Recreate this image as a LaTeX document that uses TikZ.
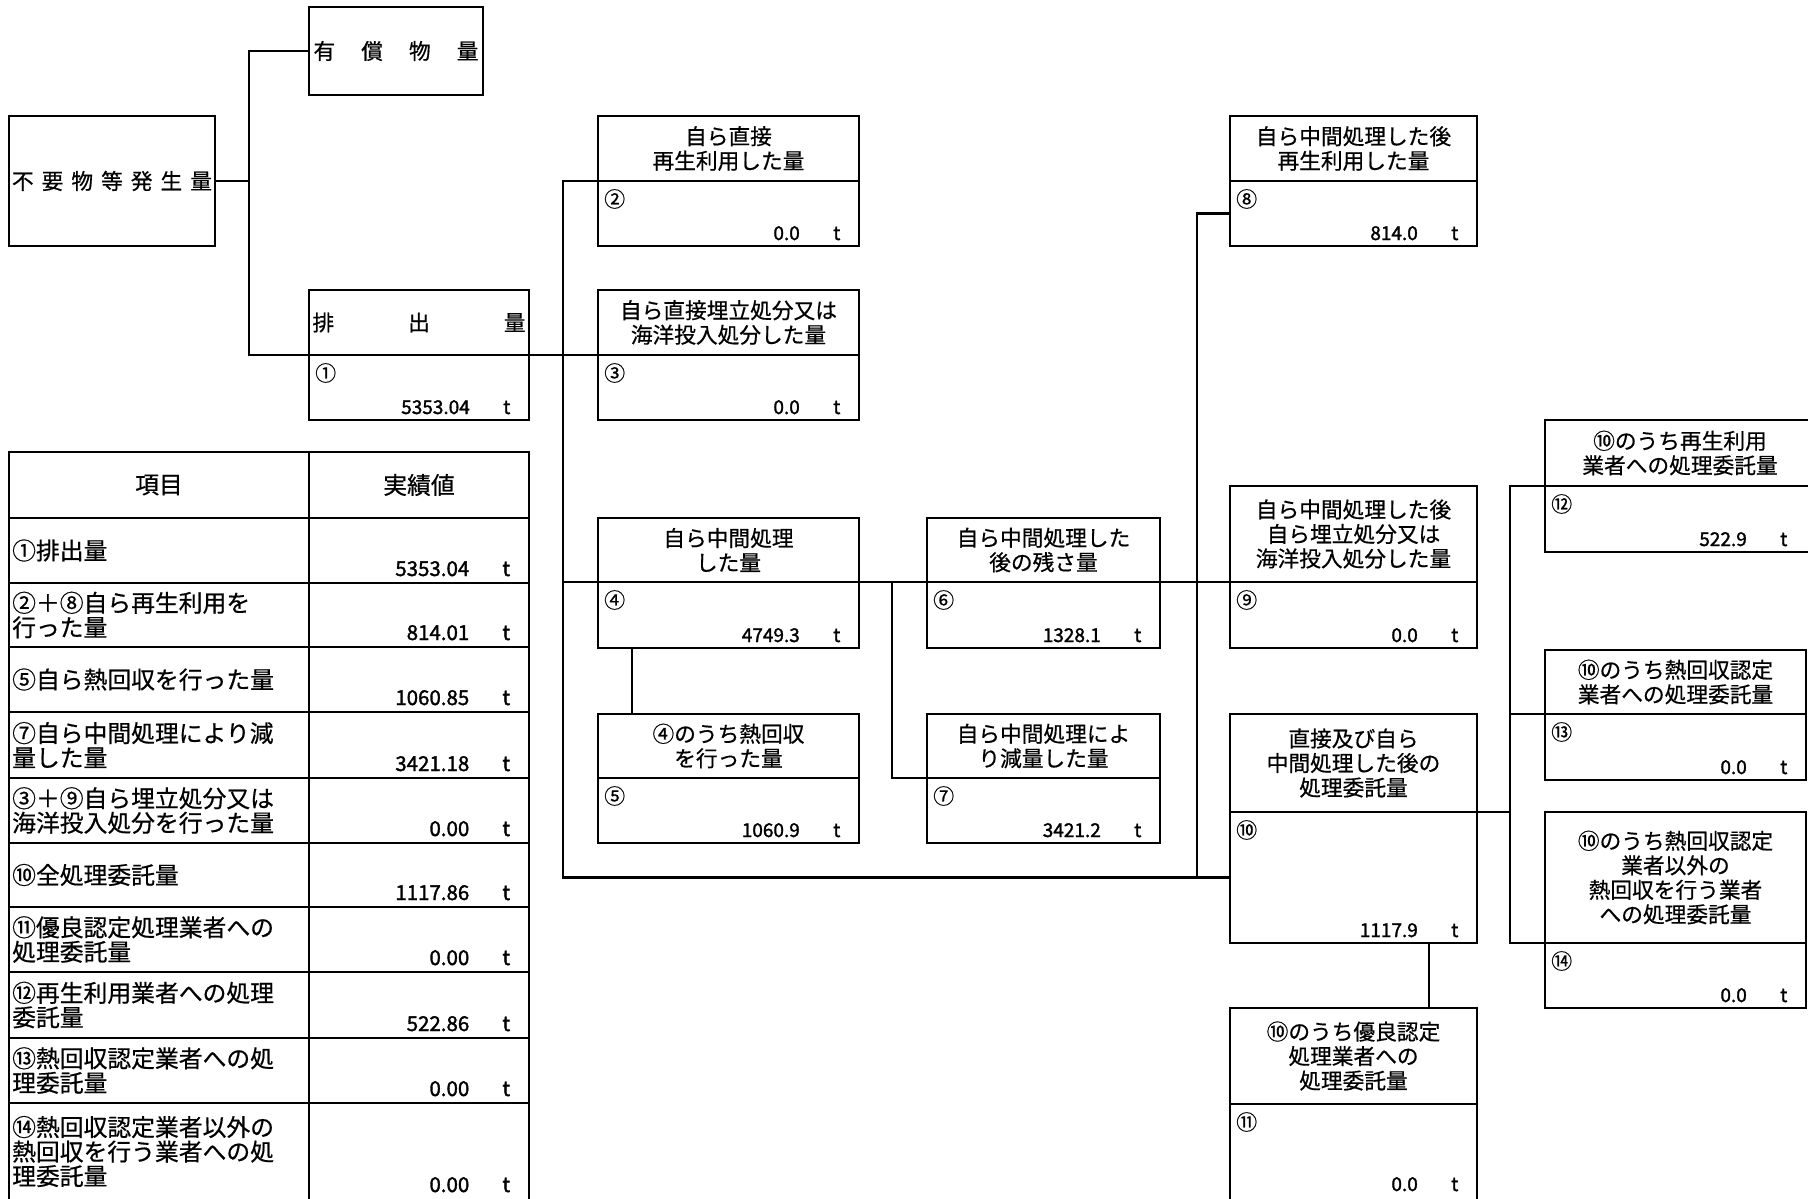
\documentclass[tikz,border=0pt]{standalone}
\usepackage{fontspec}
\setmainfont{Noto Sans CJK JP}[FakeBold=0.6]
\newfontfamily\digitfont{Noto Sans CJK JP}[FakeBold=1.6]
\usetikzlibrary{positioning, calc}

\newcommand{\boxfont}{\fontsize{21.7}{24.5}\selectfont}
\newcommand{\gridfont}{\fontsize{23.8}{24.5}\selectfont}
\newcommand{\amt}[1]{#1\hspace{32pt}\makebox[10pt]{t}}

\tikzset{
  frame/.style={draw, line width=2.2pt, inner sep=0pt, outer sep=0pt},
  head/.style={frame, anchor=north west, align=center, font=\boxfont},
  body/.style={frame, anchor=north west},
  link/.style={line width=2.2pt},
  tagno/.style={anchor=north west, inner sep=0pt, xshift=6pt, yshift=-8pt, font=\fontsize{21}{21}\selectfont},
  qty/.style={anchor=base east, inner sep=0pt, xshift=-17pt, yshift=6pt, font=\digitfont\fontsize{19}{19}\selectfont},
  gridtext/.style={anchor=west, inner sep=0pt, align=left, font=\gridfont},
  gridqty/.style={anchor=base east, inner sep=0pt, font=\digitfont\fontsize{20.5}{20.5}\selectfont},
}

\begin{document}
\begin{tikzpicture}[x=1pt, y=-1pt]
    \useasboundingbox (0,0) rectangle (1808,1199);
    \clip (0,0) rectangle (1808,1199);

    % Source and first split
    \node[frame, anchor=north west, minimum width=206, minimum height=130, font=\boxfont] (gen) at (9,116)
        {\hbox to 200pt{不\hfil 要\hfil 物\hfil 等\hfil 発\hfil 生\hfil 量}};
    \node[frame, anchor=north west, minimum width=174, minimum height=88, font=\boxfont] (paid) at (309,7)
        {\hbox to 165pt{有\hfil 償\hfil 物\hfil 量}};
    \node[frame, anchor=north west, minimum width=220, minimum height=65, font=\boxfont] (b1t) at (309,290)
        {\hbox to 213pt{排\hfil 出\hfil 量}};
    \node[body, minimum width=220, minimum height=65] (b1) at (b1t.south west) {};
    \node[tagno] (n1) at (b1.north west) {①};
    \node[qty] (v1) at (b1.south east) {\amt{5353.04}};

    % Direct recycling / direct landfill
    \node[head, minimum width=261, minimum height=65] (b2t) at (598,116) {自ら直接\\再生利用した量};
    \node[body, minimum width=261, minimum height=65] (b2) at (b2t.south west) {};
    \node[tagno] (n2) at (b2.north west) {②};
    \node[qty] (v2) at (b2.south east) {\amt{0.0}};
    \node[head, minimum width=261, minimum height=65] (b3t) at (598,290) {自ら直接埋立処分又は\\海洋投入処分した量};
    \node[body, minimum width=261, minimum height=65] (b3) at (b3t.south west) {};
    \node[tagno] (n3) at (b3.north west) {③};
    \node[qty] (v3) at (b3.south east) {\amt{0.0}};

    % Own intermediate treatment
    \node[head, minimum width=261, minimum height=64] (b4t) at (598,518) {自ら中間処理\\した量};
    \node[body, minimum width=261, minimum height=66] (b4) at (b4t.south west) {};
    \node[tagno] (n4) at (b4.north west) {④};
    \node[qty] (v4) at (b4.south east) {\amt{4749.3}};
    \node[head, minimum width=261, minimum height=64] (b5t) at (598,714) {④のうち熱回収\\を行った量};
    \node[body, minimum width=261, minimum height=65] (b5) at (b5t.south west) {};
    \node[tagno] (n5) at (b5.north west) {⑤};
    \node[qty] (v5) at (b5.south east) {\amt{1060.9}};
    \node[head, minimum width=233, minimum height=64] (b6t) at (927,518) {自ら中間処理した\\後の残さ量};
    \node[body, minimum width=233, minimum height=66] (b6) at (b6t.south west) {};
    \node[tagno] (n6) at (b6.north west) {⑥};
    \node[qty] (v6) at (b6.south east) {\amt{1328.1}};
    \node[head, minimum width=233, minimum height=64] (b7t) at (927,714) {自ら中間処理によ\\り減量した量};
    \node[body, minimum width=233, minimum height=65] (b7) at (b7t.south west) {};
    \node[tagno] (n7) at (b7.north west) {⑦};
    \node[qty] (v7) at (b7.south east) {\amt{3421.2}};

    % After treatment
    \node[head, minimum width=247, minimum height=65] (b8t) at (1230,116) {自ら中間処理した後\\再生利用した量};
    \node[body, minimum width=247, minimum height=65] (b8) at (b8t.south west) {};
    \node[tagno] (n8) at (b8.north west) {⑧};
    \node[qty] (v8) at (b8.south east) {\amt{814.0}};
    \node[head, minimum width=247, minimum height=96] (b9t) at (1230,486) {自ら中間処理した後\\自ら埋立処分又は\\海洋投入処分した量};
    \node[body, minimum width=247, minimum height=66] (b9) at (b9t.south west) {};
    \node[tagno] (n9) at (b9.north west) {⑨};
    \node[qty] (v9) at (b9.south east) {\amt{0.0}};
    \node[head, minimum width=247, minimum height=98] (b10t) at (1230,714) {直接及び自ら\\中間処理した後の\\処理委託量};
    \node[body, minimum width=247, minimum height=131] (b10) at (b10t.south west) {};
    \node[tagno] (n10) at (b10.north west) {⑩};
    \node[qty] (v10) at (b10.south east) {\amt{1117.9}};
    \node[head, minimum width=247, minimum height=96] (b11t) at (1230,1008) {⑩のうち優良認定\\処理業者への\\処理委託量};
    \node[body, minimum width=247, minimum height=99] (b11) at (b11t.south west) {};
    \node[tagno] (n11) at (b11.north west) {⑪};
    \node[qty, yshift=6pt] (v11) at (b11.south east) {\amt{0.0}};

    % Contracted out
    \node[head, minimum width=270, minimum height=66] (b12t) at (1545,420) {⑩のうち再生利用\\業者への処理委託量};
    \node[body, minimum width=270, minimum height=66] (b12) at (b12t.south west) {};
    \node[tagno] (n12) at (b12.north west) {⑫};
    \node[qty] (v12) at ([xshift=-9pt]b12.south east) {\amt{522.9}};
    \node[head, minimum width=261, minimum height=64] (b13t) at (1545,650) {⑩のうち熱回収認定\\業者への処理委託量};
    \node[body, minimum width=261, minimum height=66] (b13) at (b13t.south west) {};
    \node[tagno] (n13) at (b13.north west) {⑬};
    \node[qty] (v13) at (b13.south east) {\amt{0.0}};
    \node[head, minimum width=261, minimum height=131] (b14t) at (1545,812) {⑩のうち熱回収認定\\業者以外の\\熱回収を行う業者\\への処理委託量};
    \node[body, minimum width=261, minimum height=65] (b14) at (b14t.south west) {};
    \node[tagno] (n14) at (b14.north west) {⑭};
    \node[qty] (v14) at (b14.south east) {\amt{0.0}};

    % Connectors
    \coordinate (fork) at (249,181);
    \coordinate (busL) at (563,877.5);
    \coordinate (rise) at (1197,877.5);
    \coordinate (split) at (892,582);
    \coordinate (busR) at (1510,943);
    \draw[link] (gen.east) -- (fork) |- (paid.west);
    \draw[link] (fork) |- (b3t.south west);
    \draw[link] (b2t.south west) -| (busL) -- (b10.west);
    \draw[link] (busL |- b4t.south west) -- (b9t.south west);
    \draw[link] ([xshift=34pt]b4.south west) -- ([xshift=34pt]b5t.north west);
    \draw[link] (split) |- (b7t.south west);
    \draw[link] (b8.west) -| (rise);
    \draw[link] (b12t.south west) -| (busR) -- (b14t.south west);
    \draw[link] (b13t.south west) -- (b13t.south west -| busR);
    \draw[link] (b10t.south east) -- (b10t.south east -| busR);
    \draw[link] ([xshift=-48pt]b10.south east) -- ([xshift=-48pt]b10.south east |- b11t.north);

    % Summary table
    \draw[link] (9,452) rectangle (529,1200);
    \draw[link] (309,452) -- (309,1200);
    \foreach \y in {518,583,647,712,778,843,907,972,1038,1103}
        \draw[link] (9,\y) -- (529,\y);
    \node[inner sep=0pt, font=\gridfont] (hd1) at (159,485) {項目};
    \node[inner sep=0pt, font=\gridfont] (hd2) at (419,485) {実績値};
    \node[gridtext] (r1) at (12,550.5) {①排出量};
    \node[gridtext] (r2) at (12,615) {②＋⑧自ら再生利用を\\行った量};
    \node[gridtext] (r3) at (12,679.5) {⑤自ら熱回収を行った量};
    \node[gridtext] (r4) at (12,745) {⑦自ら中間処理により減\\量した量};
    \node[gridtext] (r5) at (12,810.5) {③＋⑨自ら埋立処分又は\\海洋投入処分を行った量};
    \node[gridtext] (r6) at (12,875) {⑩全処理委託量};
    \node[gridtext] (r7) at (12,939.5) {⑪優良認定処理業者への\\処理委託量};
    \node[gridtext] (r8) at (12,1005) {⑫再生利用業者への処理\\委託量};
    \node[gridtext] (r9) at (12,1070.5) {⑬熱回収認定業者への処\\理委託量};
    \node[gridtext] (r10) at (12,1151.5) {⑭熱回収認定業者以外の\\熱回収を行う業者への処\\理委託量};
    \node[gridqty] (q1) at (511.5,576) {\amt{5353.04}};
    \node[gridqty] (q2) at (511.5,640) {\amt{814.01}};
    \node[gridqty] (q3) at (511.5,705) {\amt{1060.85}};
    \node[gridqty] (q4) at (511.5,771) {\amt{3421.18}};
    \node[gridqty] (q5) at (511.5,836) {\amt{0.00}};
    \node[gridqty] (q6) at (511.5,900) {\amt{1117.86}};
    \node[gridqty] (q7) at (511.5,965) {\amt{0.00}};
    \node[gridqty] (q8) at (511.5,1031) {\amt{522.86}};
    \node[gridqty] (q9) at (511.5,1096) {\amt{0.00}};
    \node[gridqty] (q10) at (511.5,1192) {\amt{0.00}};
\end{tikzpicture}
\end{document}
